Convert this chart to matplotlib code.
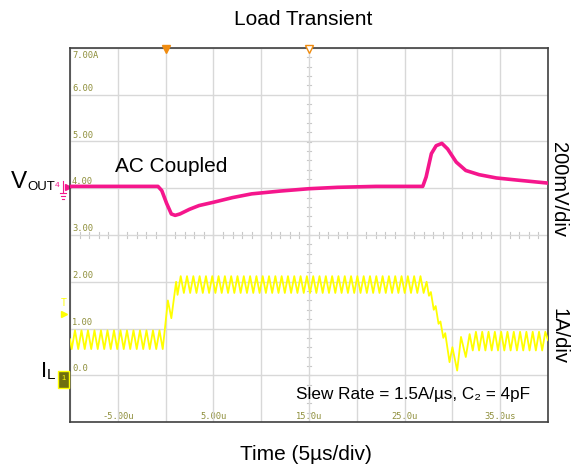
import numpy as np
import matplotlib
matplotlib.use("Agg")
from matplotlib import pyplot as plt

plt.rcParams['font.family'] = ['Liberation Sans', 'DejaVu Sans']

# ---- data (time in us, amplitude in screen divisions) ----
# V_OUT, AC coupled, 200 mV/div, ground marker at 4 div
vout_t = [-10.0, -0.8, -0.4, 0.1, 0.6, 1.0, 1.5, 2.5, 3.5, 5.0, 7.0, 9.0, 12.0, 15.0,
          18.0, 22.0, 26.9, 27.25, 27.8, 28.3, 28.9, 29.5, 30.4, 31.4, 32.8, 34.6, 37.0, 40.0]
vout_v = [4.04, 4.04, 3.95, 3.68, 3.45, 3.42, 3.45, 3.55, 3.63, 3.70, 3.80, 3.88, 3.94, 3.99,
          4.02, 4.04, 4.04, 4.24, 4.74, 4.91, 4.96, 4.84, 4.56, 4.38, 4.29, 4.22, 4.17, 4.11]

# I_L, 1 A/div, ground at 0 div -- ripple peaks / troughs
lo1_peak_t = [-9.48, -8.80, -8.12, -7.44, -6.76, -6.08, -5.40, -4.72, -4.04, -3.36,
              -2.68, -2.00, -1.32, -0.64]
lo1_trough_t = [-9.82, -9.14, -8.46, -7.78, -7.10, -6.42, -5.74, -5.06, -4.38, -3.70,
                -3.02, -2.34, -1.66, -0.98, -0.30]
lo_peak, lo_trough = 0.96, 0.56

rise_t = [0.24, 0.60, 1.10, 1.25]
rise_v = [1.60, 1.22, 2.00, 1.72]

hi_peak_t = [1.58, 2.24, 2.90, 3.56, 4.22, 4.88, 5.54, 6.20, 6.86, 7.52, 8.18, 8.84, 9.50,
             10.16, 10.82, 11.48, 12.14, 12.80, 13.46, 14.12, 14.78, 15.44, 16.10, 16.76,
             17.42, 18.08, 18.74, 19.40, 20.06, 20.72, 21.38, 22.04, 22.70, 23.36, 24.02,
             24.68, 25.34, 26.00, 26.66]
hi_trough_t = [1.91, 2.57, 3.23, 3.89, 4.55, 5.21, 5.87, 6.53, 7.19, 7.85, 8.51, 9.17, 9.83,
               10.49, 11.15, 11.81, 12.47, 13.13, 13.79, 14.45, 15.11, 15.77, 16.43, 17.09,
               17.75, 18.41, 19.07, 19.73, 20.39, 21.05, 21.71, 22.37, 23.03, 23.69, 24.35,
               25.01, 25.67, 26.33, 26.99]
hi_peak, hi_trough = 2.12, 1.76

fall_t = [27.30, 27.55, 27.75, 28.05, 28.25, 28.55, 28.75, 29.05, 29.25, 29.70, 30.00,
          30.50, 30.90, 31.40, 31.80]
fall_v = [2.00, 1.70, 1.78, 1.40, 1.48, 1.10, 1.15, 0.80, 0.90, 0.28, 0.60,
          0.10, 0.82, 0.39, 0.88]

lo2_trough_t = [32.13, 32.79, 33.45, 34.11, 34.77, 35.43, 36.09, 36.75, 37.41, 38.07,
                38.73, 39.39]
lo2_peak_t = [32.46, 33.12, 33.78, 34.44, 35.10, 35.76, 36.42, 37.08, 37.74, 38.40,
              39.06, 39.72]
lo2_peak, lo2_trough = 0.93, 0.53

scale_labels = ['0.0', '1.00', '2.00', '3.00', '4.00', '5.00', '6.00', '7.00A']
time_ticks = [-5, 5, 15, 25, 35]
time_labels = ['-5.00u', '5.00u', '15.0u', '25.0u', '35.0us']


def zigzag(t_a, v_a, t_b, v_b):
    t = np.concatenate([t_a, t_b])
    v = np.concatenate([np.full(len(t_a), v_a), np.full(len(t_b), v_b)])
    order = np.argsort(t)
    return t[order], v[order]


t1, v1 = zigzag(lo1_peak_t, lo_peak, lo1_trough_t, lo_trough)
t2, v2 = zigzag(hi_peak_t, hi_peak, hi_trough_t, hi_trough)
t3, v3 = zigzag(lo2_peak_t, lo2_peak, lo2_trough_t, lo2_trough)
il_t = np.concatenate([[-10.0], t1, rise_t, t2, fall_t, t3, [40.0]])
il_v = np.concatenate([[0.77], v1, rise_v, v2, fall_v, v3, [0.75]])

pink = '#f5168c'
yellow = '#ffff00'
olive = '#8e8e3a'
orange = '#f08c10'

fig = plt.figure(figsize=(5.8, 4.67), dpi=100)
ax = fig.add_axes([70/580, 45/467, 478/580, 374/467])
ax.set_xlim(-10, 40)
ax.set_ylim(-1, 7)
ax.set_xticks(np.arange(-10, 41, 5))
ax.set_yticks(np.arange(-1, 8, 1))
ax.tick_params(length=0, labelbottom=False, labelleft=False)
ax.grid(True, color='#d8d8d8', linewidth=1.0)
for s in ax.spines.values():
    s.set_color('#404040')
    s.set_linewidth(1.2)

# minor ticks on centre lines
for t in np.arange(-10, 40.1, 1):
    ax.plot([t, t], [2.93, 3.07], color='#c8c8c8', lw=0.8, zorder=1)
for d in np.arange(-1, 7.01, 0.2):
    ax.plot([14.8, 15.2], [d, d], color='#c8c8c8', lw=0.8, zorder=1)

# scale labels on screen
mono = dict(family='DejaVu Sans Mono', fontsize=6.3, color=olive, zorder=1)
for i, lab in enumerate(scale_labels):
    if i == 7:
        ax.text(-9.8, 6.94, lab, va='top', ha='left', **mono)
    else:
        ax.text(-9.8, i + 0.04, lab, va='bottom', ha='left', **mono)
for t, lab in zip(time_ticks, time_labels):
    ax.text(t, -0.97, lab, va='bottom', ha='center', **mono)

# traces
ax.plot(il_t, il_v, color=yellow, lw=1.3, zorder=3)
ax.plot(vout_t, vout_v, color=pink, lw=2.6, zorder=4)

# top markers
ax.plot(0, 6.97, marker='v', color=orange, ms=6, clip_on=False, zorder=5)
ax.plot(15, 6.97, marker='v', mfc='white', mec=orange, ms=6, mew=1, clip_on=False, zorder=5)

# left-side channel markers
ytr = ax.get_yaxis_transform()
ax.text(-0.026, 4.06, '4', transform=ytr, color=pink, fontsize=6, ha='center', va='center')
ax.plot([-0.015, -0.015], [4.15, 3.9], transform=ytr, color=pink, lw=0.8, clip_on=False)
for w, yy in [(0.012, 3.9), (0.008, 3.84), (0.004, 3.78)]:
    ax.plot([-0.015 - w/2, -0.015 + w/2], [yy, yy], transform=ytr, color=pink, lw=0.8, clip_on=False)
ax.plot(-0.005, 4.02, marker='>', ms=4, color=pink, transform=ytr, clip_on=False)

ax.text(-0.013, 1.55, 'T', transform=ytr, color=yellow, fontsize=7, ha='center', va='center')
ax.plot(-0.012, 1.3, marker='>', ms=4.5, color=yellow, transform=ytr, clip_on=False)

box = plt.Rectangle((-0.025, -0.27), 0.023, 0.37, transform=ytr, facecolor='#6e6e10',
                    edgecolor=yellow, lw=1, clip_on=False, zorder=5)
ax.add_patch(box)
ax.text(-0.0135, -0.06, '1', transform=ytr, color=yellow, fontsize=5.5, ha='center',
        va='center', zorder=6)

# texts
fig.text(0.523, 0.958, 'Load Transient', ha='center', va='center', fontsize=15)
fig.text(0.527, 0.026, 'Time (5µs/div)', ha='center', va='center', fontsize=15)
fig.text(171/580, 1 - 167/467, 'AC Coupled', ha='center', va='center', fontsize=15)
fig.text(530/580, 1 - 395/467, 'Slew Rate = 1.5A/µs, C₂ = 4pF', ha='right', va='center',
         fontsize=12.3)
fig.text(11/580, 1 - 188/467, 'V', ha='left', va='baseline', fontsize=17.5)
fig.text(27/580, 1 - 190/467, 'OUT', ha='left', va='baseline', fontsize=9.5)
fig.text(41/580, 1 - 377/467, 'I', ha='left', va='baseline', fontsize=16)
fig.text(47/580, 1 - 379/467, 'L', ha='left', va='baseline', fontsize=11)
fig.text(559/580, 1 - 190/467, '200mV/div', rotation=-90, ha='center', va='center', fontsize=14.5)
fig.text(559/580, 1 - 336/467, '1A/div', rotation=-90, ha='center', va='center', fontsize=14.5)

fig.savefig('out.png', dpi=100)
